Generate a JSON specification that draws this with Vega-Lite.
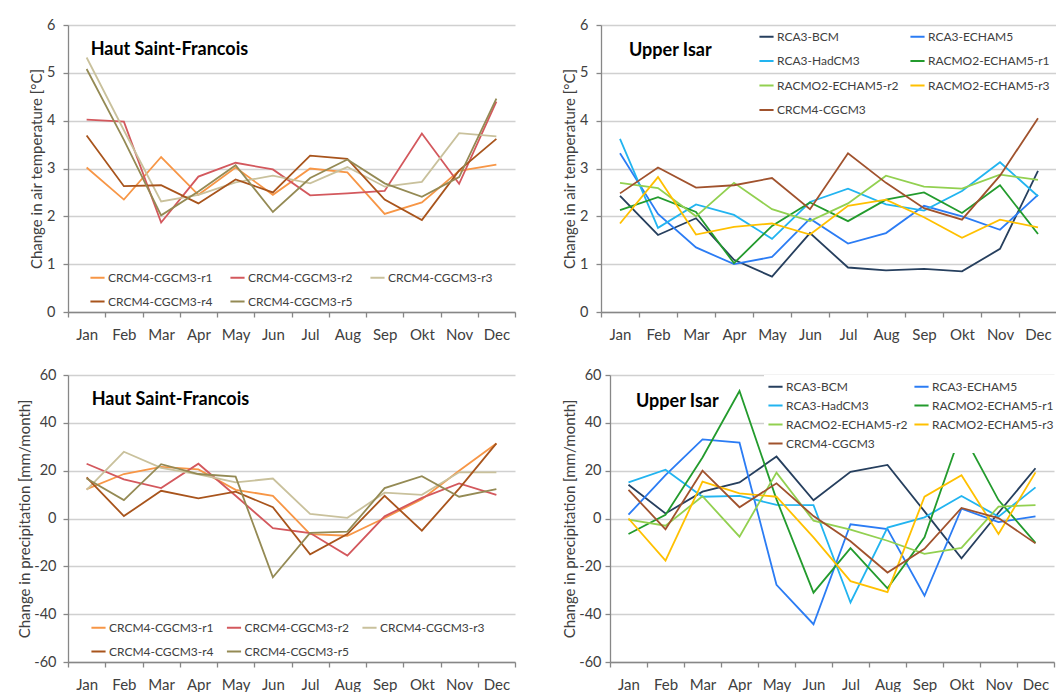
{
  "$schema": "https://vega.github.io/schema/vega-lite/v6.json",
  "background": "white",
  "padding": {"left": 17, "top": 17, "right": 0, "bottom": 0},
  "config": {
    "font": "Lato",
    "view": {"stroke": null},
    "axis": {"labelFont": "Lato", "titleFont": "Lato", "labelFontSize": 15, "titleFontSize": 15, "titleFontWeight": "normal", "labelColor": "#404040", "titleColor": "#404040", "domainColor": "#878787", "tickColor": "#878787", "gridColor": "#d0d0d0", "domainWidth": 1.3, "tickWidth": 1.3, "gridWidth": 1.3, "tickSize": 5},
    "axisY": {"labelFontSize": 14.5},
    "legend": {"symbolType": "stroke", "symbolSize": 200, "symbolStrokeWidth": 2, "labelFont": "Lato", "labelFontSize": 12, "labelColor": "#404040", "labelOffset": 2, "padding": 0}
  },
  "datasets": {
    "tA": [
      {"m":"Jan","s":"CRCM4-CGCM3-r1","v":3.02},{"m":"Feb","s":"CRCM4-CGCM3-r1","v":2.35},{"m":"Mar","s":"CRCM4-CGCM3-r1","v":3.24},{"m":"Apr","s":"CRCM4-CGCM3-r1","v":2.45},{"m":"May","s":"CRCM4-CGCM3-r1","v":3.02},{"m":"Jun","s":"CRCM4-CGCM3-r1","v":2.45},{"m":"Jul","s":"CRCM4-CGCM3-r1","v":3.0},{"m":"Aug","s":"CRCM4-CGCM3-r1","v":2.92},{"m":"Sep","s":"CRCM4-CGCM3-r1","v":2.05},{"m":"Okt","s":"CRCM4-CGCM3-r1","v":2.29},{"m":"Nov","s":"CRCM4-CGCM3-r1","v":2.95},{"m":"Dec","s":"CRCM4-CGCM3-r1","v":3.08},
      {"m":"Jan","s":"CRCM4-CGCM3-r2","v":4.02},{"m":"Feb","s":"CRCM4-CGCM3-r2","v":3.98},{"m":"Mar","s":"CRCM4-CGCM3-r2","v":1.87},{"m":"Apr","s":"CRCM4-CGCM3-r2","v":2.83},{"m":"May","s":"CRCM4-CGCM3-r2","v":3.12},{"m":"Jun","s":"CRCM4-CGCM3-r2","v":2.98},{"m":"Jul","s":"CRCM4-CGCM3-r2","v":2.44},{"m":"Aug","s":"CRCM4-CGCM3-r2","v":2.48},{"m":"Sep","s":"CRCM4-CGCM3-r2","v":2.53},{"m":"Okt","s":"CRCM4-CGCM3-r2","v":3.73},{"m":"Nov","s":"CRCM4-CGCM3-r2","v":2.68},{"m":"Dec","s":"CRCM4-CGCM3-r2","v":4.4},
      {"m":"Jan","s":"CRCM4-CGCM3-r3","v":5.32},{"m":"Feb","s":"CRCM4-CGCM3-r3","v":3.8},{"m":"Mar","s":"CRCM4-CGCM3-r3","v":2.31},{"m":"Apr","s":"CRCM4-CGCM3-r3","v":2.45},{"m":"May","s":"CRCM4-CGCM3-r3","v":2.71},{"m":"Jun","s":"CRCM4-CGCM3-r3","v":2.85},{"m":"Jul","s":"CRCM4-CGCM3-r3","v":2.69},{"m":"Aug","s":"CRCM4-CGCM3-r3","v":3.03},{"m":"Sep","s":"CRCM4-CGCM3-r3","v":2.62},{"m":"Okt","s":"CRCM4-CGCM3-r3","v":2.72},{"m":"Nov","s":"CRCM4-CGCM3-r3","v":3.74},{"m":"Dec","s":"CRCM4-CGCM3-r3","v":3.67},
      {"m":"Jan","s":"CRCM4-CGCM3-r4","v":3.69},{"m":"Feb","s":"CRCM4-CGCM3-r4","v":2.63},{"m":"Mar","s":"CRCM4-CGCM3-r4","v":2.65},{"m":"Apr","s":"CRCM4-CGCM3-r4","v":2.27},{"m":"May","s":"CRCM4-CGCM3-r4","v":2.77},{"m":"Jun","s":"CRCM4-CGCM3-r4","v":2.5},{"m":"Jul","s":"CRCM4-CGCM3-r4","v":3.27},{"m":"Aug","s":"CRCM4-CGCM3-r4","v":3.2},{"m":"Sep","s":"CRCM4-CGCM3-r4","v":2.35},{"m":"Okt","s":"CRCM4-CGCM3-r4","v":1.92},{"m":"Nov","s":"CRCM4-CGCM3-r4","v":2.96},{"m":"Dec","s":"CRCM4-CGCM3-r4","v":3.62},
      {"m":"Jan","s":"CRCM4-CGCM3-r5","v":5.08},{"m":"Feb","s":"CRCM4-CGCM3-r5","v":3.6},{"m":"Mar","s":"CRCM4-CGCM3-r5","v":2.02},{"m":"Apr","s":"CRCM4-CGCM3-r5","v":2.52},{"m":"May","s":"CRCM4-CGCM3-r5","v":3.07},{"m":"Jun","s":"CRCM4-CGCM3-r5","v":2.09},{"m":"Jul","s":"CRCM4-CGCM3-r5","v":2.8},{"m":"Aug","s":"CRCM4-CGCM3-r5","v":3.19},{"m":"Sep","s":"CRCM4-CGCM3-r5","v":2.69},{"m":"Okt","s":"CRCM4-CGCM3-r5","v":2.41},{"m":"Nov","s":"CRCM4-CGCM3-r5","v":2.82},{"m":"Dec","s":"CRCM4-CGCM3-r5","v":4.46}
    ],
    "tB": [
      {"m":"Jan","s":"RCA3-BCM","v":2.43},{"m":"Feb","s":"RCA3-BCM","v":1.61},{"m":"Mar","s":"RCA3-BCM","v":1.96},{"m":"Apr","s":"RCA3-BCM","v":1.09},{"m":"May","s":"RCA3-BCM","v":0.74},{"m":"Jun","s":"RCA3-BCM","v":1.65},{"m":"Jul","s":"RCA3-BCM","v":0.93},{"m":"Aug","s":"RCA3-BCM","v":0.87},{"m":"Sep","s":"RCA3-BCM","v":0.9},{"m":"Okt","s":"RCA3-BCM","v":0.85},{"m":"Nov","s":"RCA3-BCM","v":1.32},{"m":"Dec","s":"RCA3-BCM","v":2.95},
      {"m":"Jan","s":"RCA3-ECHAM5","v":3.32},{"m":"Feb","s":"RCA3-ECHAM5","v":2.05},{"m":"Mar","s":"RCA3-ECHAM5","v":1.35},{"m":"Apr","s":"RCA3-ECHAM5","v":1.0},{"m":"May","s":"RCA3-ECHAM5","v":1.15},{"m":"Jun","s":"RCA3-ECHAM5","v":1.95},{"m":"Jul","s":"RCA3-ECHAM5","v":1.43},{"m":"Aug","s":"RCA3-ECHAM5","v":1.65},{"m":"Sep","s":"RCA3-ECHAM5","v":2.22},{"m":"Okt","s":"RCA3-ECHAM5","v":2.0},{"m":"Nov","s":"RCA3-ECHAM5","v":1.72},{"m":"Dec","s":"RCA3-ECHAM5","v":2.45},
      {"m":"Jan","s":"RCA3-HadCM3","v":3.62},{"m":"Feb","s":"RCA3-HadCM3","v":1.76},{"m":"Mar","s":"RCA3-HadCM3","v":2.25},{"m":"Apr","s":"RCA3-HadCM3","v":2.03},{"m":"May","s":"RCA3-HadCM3","v":1.53},{"m":"Jun","s":"RCA3-HadCM3","v":2.3},{"m":"Jul","s":"RCA3-HadCM3","v":2.58},{"m":"Aug","s":"RCA3-HadCM3","v":2.25},{"m":"Sep","s":"RCA3-HadCM3","v":2.12},{"m":"Okt","s":"RCA3-HadCM3","v":2.53},{"m":"Nov","s":"RCA3-HadCM3","v":3.13},{"m":"Dec","s":"RCA3-HadCM3","v":2.42},
      {"m":"Jan","s":"RACMO2-ECHAM5-r1","v":2.13},{"m":"Feb","s":"RACMO2-ECHAM5-r1","v":2.4},{"m":"Mar","s":"RACMO2-ECHAM5-r1","v":2.09},{"m":"Apr","s":"RACMO2-ECHAM5-r1","v":1.02},{"m":"May","s":"RACMO2-ECHAM5-r1","v":1.8},{"m":"Jun","s":"RACMO2-ECHAM5-r1","v":2.29},{"m":"Jul","s":"RACMO2-ECHAM5-r1","v":1.9},{"m":"Aug","s":"RACMO2-ECHAM5-r1","v":2.35},{"m":"Sep","s":"RACMO2-ECHAM5-r1","v":2.5},{"m":"Okt","s":"RACMO2-ECHAM5-r1","v":2.07},{"m":"Nov","s":"RACMO2-ECHAM5-r1","v":2.65},{"m":"Dec","s":"RACMO2-ECHAM5-r1","v":1.63},
      {"m":"Jan","s":"RACMO2-ECHAM5-r2","v":2.7},{"m":"Feb","s":"RACMO2-ECHAM5-r2","v":2.59},{"m":"Mar","s":"RACMO2-ECHAM5-r2","v":2.0},{"m":"Apr","s":"RACMO2-ECHAM5-r2","v":2.7},{"m":"May","s":"RACMO2-ECHAM5-r2","v":2.15},{"m":"Jun","s":"RACMO2-ECHAM5-r2","v":1.9},{"m":"Jul","s":"RACMO2-ECHAM5-r2","v":2.27},{"m":"Aug","s":"RACMO2-ECHAM5-r2","v":2.85},{"m":"Sep","s":"RACMO2-ECHAM5-r2","v":2.62},{"m":"Okt","s":"RACMO2-ECHAM5-r2","v":2.58},{"m":"Nov","s":"RACMO2-ECHAM5-r2","v":2.87},{"m":"Dec","s":"RACMO2-ECHAM5-r2","v":2.76},
      {"m":"Jan","s":"RACMO2-ECHAM5-r3","v":1.85},{"m":"Feb","s":"RACMO2-ECHAM5-r3","v":2.82},{"m":"Mar","s":"RACMO2-ECHAM5-r3","v":1.62},{"m":"Apr","s":"RACMO2-ECHAM5-r3","v":1.78},{"m":"May","s":"RACMO2-ECHAM5-r3","v":1.85},{"m":"Jun","s":"RACMO2-ECHAM5-r3","v":1.62},{"m":"Jul","s":"RACMO2-ECHAM5-r3","v":2.22},{"m":"Aug","s":"RACMO2-ECHAM5-r3","v":2.35},{"m":"Sep","s":"RACMO2-ECHAM5-r3","v":1.98},{"m":"Okt","s":"RACMO2-ECHAM5-r3","v":1.55},{"m":"Nov","s":"RACMO2-ECHAM5-r3","v":1.93},{"m":"Dec","s":"RACMO2-ECHAM5-r3","v":1.77},
      {"m":"Jan","s":"CRCM4-CGCM3","v":2.48},{"m":"Feb","s":"CRCM4-CGCM3","v":3.02},{"m":"Mar","s":"CRCM4-CGCM3","v":2.6},{"m":"Apr","s":"CRCM4-CGCM3","v":2.65},{"m":"May","s":"CRCM4-CGCM3","v":2.8},{"m":"Jun","s":"CRCM4-CGCM3","v":2.15},{"m":"Jul","s":"CRCM4-CGCM3","v":3.32},{"m":"Aug","s":"CRCM4-CGCM3","v":2.7},{"m":"Sep","s":"CRCM4-CGCM3","v":2.17},{"m":"Okt","s":"CRCM4-CGCM3","v":1.93},{"m":"Nov","s":"CRCM4-CGCM3","v":2.85},{"m":"Dec","s":"CRCM4-CGCM3","v":4.05}
    ],
    "pA": [
      {"m":"Jan","s":"CRCM4-CGCM3-r1","v":12.3},{"m":"Feb","s":"CRCM4-CGCM3-r1","v":18.6},{"m":"Mar","s":"CRCM4-CGCM3-r1","v":21.6},{"m":"Apr","s":"CRCM4-CGCM3-r1","v":20.5},{"m":"May","s":"CRCM4-CGCM3-r1","v":12},{"m":"Jun","s":"CRCM4-CGCM3-r1","v":9.5},{"m":"Jul","s":"CRCM4-CGCM3-r1","v":-6.5},{"m":"Aug","s":"CRCM4-CGCM3-r1","v":-7.2},{"m":"Sep","s":"CRCM4-CGCM3-r1","v":0.2},{"m":"Okt","s":"CRCM4-CGCM3-r1","v":8.1},{"m":"Nov","s":"CRCM4-CGCM3-r1","v":20},{"m":"Dec","s":"CRCM4-CGCM3-r1","v":31.4},
      {"m":"Jan","s":"CRCM4-CGCM3-r2","v":22.9},{"m":"Feb","s":"CRCM4-CGCM3-r2","v":16.4},{"m":"Mar","s":"CRCM4-CGCM3-r2","v":12.7},{"m":"Apr","s":"CRCM4-CGCM3-r2","v":22.9},{"m":"May","s":"CRCM4-CGCM3-r2","v":9.5},{"m":"Jun","s":"CRCM4-CGCM3-r2","v":-4},{"m":"Jul","s":"CRCM4-CGCM3-r2","v":-6.1},{"m":"Aug","s":"CRCM4-CGCM3-r2","v":-15.5},{"m":"Sep","s":"CRCM4-CGCM3-r2","v":0.9},{"m":"Okt","s":"CRCM4-CGCM3-r2","v":8.6},{"m":"Nov","s":"CRCM4-CGCM3-r2","v":14.7},{"m":"Dec","s":"CRCM4-CGCM3-r2","v":9.9},
      {"m":"Jan","s":"CRCM4-CGCM3-r3","v":12},{"m":"Feb","s":"CRCM4-CGCM3-r3","v":27.9},{"m":"Mar","s":"CRCM4-CGCM3-r3","v":21.2},{"m":"Apr","s":"CRCM4-CGCM3-r3","v":18.5},{"m":"May","s":"CRCM4-CGCM3-r3","v":15.1},{"m":"Jun","s":"CRCM4-CGCM3-r3","v":16.7},{"m":"Jul","s":"CRCM4-CGCM3-r3","v":1.9},{"m":"Aug","s":"CRCM4-CGCM3-r3","v":0.3},{"m":"Sep","s":"CRCM4-CGCM3-r3","v":10.8},{"m":"Okt","s":"CRCM4-CGCM3-r3","v":9.9},{"m":"Nov","s":"CRCM4-CGCM3-r3","v":19.3},{"m":"Dec","s":"CRCM4-CGCM3-r3","v":19.3},
      {"m":"Jan","s":"CRCM4-CGCM3-r4","v":17.2},{"m":"Feb","s":"CRCM4-CGCM3-r4","v":1},{"m":"Mar","s":"CRCM4-CGCM3-r4","v":11.6},{"m":"Apr","s":"CRCM4-CGCM3-r4","v":8.4},{"m":"May","s":"CRCM4-CGCM3-r4","v":11.2},{"m":"Jun","s":"CRCM4-CGCM3-r4","v":4.7},{"m":"Jul","s":"CRCM4-CGCM3-r4","v":-15},{"m":"Aug","s":"CRCM4-CGCM3-r4","v":-6.5},{"m":"Sep","s":"CRCM4-CGCM3-r4","v":9.5},{"m":"Okt","s":"CRCM4-CGCM3-r4","v":-5.1},{"m":"Nov","s":"CRCM4-CGCM3-r4","v":12.5},{"m":"Dec","s":"CRCM4-CGCM3-r4","v":31.4},
      {"m":"Jan","s":"CRCM4-CGCM3-r5","v":16.7},{"m":"Feb","s":"CRCM4-CGCM3-r5","v":7.7},{"m":"Mar","s":"CRCM4-CGCM3-r5","v":22.7},{"m":"Apr","s":"CRCM4-CGCM3-r5","v":18.6},{"m":"May","s":"CRCM4-CGCM3-r5","v":17.5},{"m":"Jun","s":"CRCM4-CGCM3-r5","v":-24.6},{"m":"Jul","s":"CRCM4-CGCM3-r5","v":-6},{"m":"Aug","s":"CRCM4-CGCM3-r5","v":-5.5},{"m":"Sep","s":"CRCM4-CGCM3-r5","v":12.7},{"m":"Okt","s":"CRCM4-CGCM3-r5","v":17.7},{"m":"Nov","s":"CRCM4-CGCM3-r5","v":9.1},{"m":"Dec","s":"CRCM4-CGCM3-r5","v":12.3}
    ],
    "pB": [
      {"m":"Jan","s":"RCA3-BCM","v":14.1},{"m":"Feb","s":"RCA3-BCM","v":2.1},{"m":"Mar","s":"RCA3-BCM","v":11.2},{"m":"Apr","s":"RCA3-BCM","v":15.1},{"m":"May","s":"RCA3-BCM","v":25.9},{"m":"Jun","s":"RCA3-BCM","v":7.6},{"m":"Jul","s":"RCA3-BCM","v":19.5},{"m":"Aug","s":"RCA3-BCM","v":22.4},{"m":"Sep","s":"RCA3-BCM","v":3},{"m":"Okt","s":"RCA3-BCM","v":-16.6},{"m":"Nov","s":"RCA3-BCM","v":2.4},{"m":"Dec","s":"RCA3-BCM","v":21},
      {"m":"Jan","s":"RCA3-ECHAM5","v":1.6},{"m":"Feb","s":"RCA3-ECHAM5","v":18.1},{"m":"Mar","s":"RCA3-ECHAM5","v":33.1},{"m":"Apr","s":"RCA3-ECHAM5","v":31.7},{"m":"May","s":"RCA3-ECHAM5","v":-27.7},{"m":"Jun","s":"RCA3-ECHAM5","v":-44.2},{"m":"Jul","s":"RCA3-ECHAM5","v":-2.4},{"m":"Aug","s":"RCA3-ECHAM5","v":-4.4},{"m":"Sep","s":"RCA3-ECHAM5","v":-32.3},{"m":"Okt","s":"RCA3-ECHAM5","v":4.1},{"m":"Nov","s":"RCA3-ECHAM5","v":-1.5},{"m":"Dec","s":"RCA3-ECHAM5","v":0.9},
      {"m":"Jan","s":"RCA3-HadCM3","v":15.1},{"m":"Feb","s":"RCA3-HadCM3","v":20.4},{"m":"Mar","s":"RCA3-HadCM3","v":9.1},{"m":"Apr","s":"RCA3-HadCM3","v":9.5},{"m":"May","s":"RCA3-HadCM3","v":5.7},{"m":"Jun","s":"RCA3-HadCM3","v":5.6},{"m":"Jul","s":"RCA3-HadCM3","v":-35.1},{"m":"Aug","s":"RCA3-HadCM3","v":-3.8},{"m":"Sep","s":"RCA3-HadCM3","v":0.5},{"m":"Okt","s":"RCA3-HadCM3","v":9.4},{"m":"Nov","s":"RCA3-HadCM3","v":0.8},{"m":"Dec","s":"RCA3-HadCM3","v":13},
      {"m":"Jan","s":"RACMO2-ECHAM5-r1","v":-6.5},{"m":"Feb","s":"RACMO2-ECHAM5-r1","v":1.5},{"m":"Mar","s":"RACMO2-ECHAM5-r1","v":25.5},{"m":"Apr","s":"RACMO2-ECHAM5-r1","v":53.3},{"m":"May","s":"RACMO2-ECHAM5-r1","v":8},{"m":"Jun","s":"RACMO2-ECHAM5-r1","v":-31},{"m":"Jul","s":"RACMO2-ECHAM5-r1","v":-12.4},{"m":"Aug","s":"RACMO2-ECHAM5-r1","v":-29.2},{"m":"Sep","s":"RACMO2-ECHAM5-r1","v":-7.9},{"m":"Okt","s":"RACMO2-ECHAM5-r1","v":36.5},{"m":"Nov","s":"RACMO2-ECHAM5-r1","v":7.7},{"m":"Dec","s":"RACMO2-ECHAM5-r1","v":-10.2},
      {"m":"Jan","s":"RACMO2-ECHAM5-r2","v":-0.5},{"m":"Feb","s":"RACMO2-ECHAM5-r2","v":-3},{"m":"Mar","s":"RACMO2-ECHAM5-r2","v":9.3},{"m":"Apr","s":"RACMO2-ECHAM5-r2","v":-7.6},{"m":"May","s":"RACMO2-ECHAM5-r2","v":19.2},{"m":"Jun","s":"RACMO2-ECHAM5-r2","v":-0.9},{"m":"Jul","s":"RACMO2-ECHAM5-r2","v":-4.7},{"m":"Aug","s":"RACMO2-ECHAM5-r2","v":-9.3},{"m":"Sep","s":"RACMO2-ECHAM5-r2","v":-14.8},{"m":"Okt","s":"RACMO2-ECHAM5-r2","v":-12.3},{"m":"Nov","s":"RACMO2-ECHAM5-r2","v":5},{"m":"Dec","s":"RACMO2-ECHAM5-r2","v":5.6},
      {"m":"Jan","s":"RACMO2-ECHAM5-r3","v":0},{"m":"Feb","s":"RACMO2-ECHAM5-r3","v":-17.6},{"m":"Mar","s":"RACMO2-ECHAM5-r3","v":15.4},{"m":"Apr","s":"RACMO2-ECHAM5-r3","v":10.5},{"m":"May","s":"RACMO2-ECHAM5-r3","v":9.1},{"m":"Jun","s":"RACMO2-ECHAM5-r3","v":-7.9},{"m":"Jul","s":"RACMO2-ECHAM5-r3","v":-26.2},{"m":"Aug","s":"RACMO2-ECHAM5-r3","v":-30.8},{"m":"Sep","s":"RACMO2-ECHAM5-r3","v":9.1},{"m":"Okt","s":"RACMO2-ECHAM5-r3","v":18.1},{"m":"Nov","s":"RACMO2-ECHAM5-r3","v":-6.5},{"m":"Dec","s":"RACMO2-ECHAM5-r3","v":19.3},
      {"m":"Jan","s":"CRCM4-CGCM3","v":12},{"m":"Feb","s":"CRCM4-CGCM3","v":-4.5},{"m":"Mar","s":"CRCM4-CGCM3","v":20},{"m":"Apr","s":"CRCM4-CGCM3","v":4.7},{"m":"May","s":"CRCM4-CGCM3","v":14.7},{"m":"Jun","s":"CRCM4-CGCM3","v":1},{"m":"Jul","s":"CRCM4-CGCM3","v":-9.5},{"m":"Aug","s":"CRCM4-CGCM3","v":-22.6},{"m":"Sep","s":"CRCM4-CGCM3","v":-12.7},{"m":"Okt","s":"CRCM4-CGCM3","v":4.4},{"m":"Nov","s":"CRCM4-CGCM3","v":0.2},{"m":"Dec","s":"CRCM4-CGCM3","v":-10.4}
    ]
  },
  "resolve": {"scale": {"color": "independent", "x": "independent", "y": "independent"}, "legend": {"color": "independent"}},
  "columns": 2,
  "align": "none",
  "spacing": {"row": 25, "column": 46},
  "concat": [
    {
      "width": 447, "height": 287,
      "layer": [
        {
          "data": {"name": "tA"},
          "mark": {"type": "line", "strokeWidth": 1.8},
          "encoding": {
            "x": {"field": "m", "type": "ordinal", "bandPosition": 0.5, "sort": ["Jan","Feb","Mar","Apr","May","Jun","Jul","Aug","Sep","Okt","Nov","Dec"], "scale": {"type": "band", "paddingInner": 0, "paddingOuter": 0, "domain": ["Jan","Feb","Mar","Apr","May","Jun","Jul","Aug","Sep","Okt","Nov","Dec"]}, "axis": {"title": null, "labelAngle": 0, "tickBand": "extent", "grid": false, "labelPadding": 10}},
            "y": {"field": "v", "type": "quantitative", "scale": {"domain": [0, 6], "nice": false, "zero": false}, "axis": {"title": "Change in air temperature [°C]", "values": [0,1,2,3,4,5,6], "grid": true, "labelPadding": 8, "titlePadding": 2}},
            "color": {"field": "s", "type": "nominal", "scale": {"domain": ["CRCM4-CGCM3-r1","CRCM4-CGCM3-r4","CRCM4-CGCM3-r2","CRCM4-CGCM3-r5","CRCM4-CGCM3-r3"], "range": ["#F79646","#A8541C","#D3585D","#948A54","#C9C19C"]}, "legend": {"orient": "none", "legendX": 21, "legendY": 244, "columns": 3, "title": null, "rowPadding": 9, "columnPadding": 13}}
          }
        },
        {
          "data": {"values": [{"m": "Jan", "v": 5.48, "t": "Haut Saint-Francois"}]},
          "mark": {"type": "text", "align": "left", "baseline": "middle", "dx": 4, "fontSize": 18, "fontWeight": "bold", "font": "Lato", "color": "#000000"},
          "encoding": {"x": {"field": "m", "type": "ordinal", "bandPosition": 0.5, "sort": ["Jan","Feb","Mar","Apr","May","Jun","Jul","Aug","Sep","Okt","Nov","Dec"]}, "y": {"field": "v", "type": "quantitative"}, "text": {"field": "t"}}
        }
      ]
    },
    {
      "width": 456, "height": 287,
      "layer": [
        {
          "data": {"name": "tB"},
          "mark": {"type": "line", "strokeWidth": 1.8},
          "encoding": {
            "x": {"field": "m", "type": "ordinal", "bandPosition": 0.5, "sort": ["Jan","Feb","Mar","Apr","May","Jun","Jul","Aug","Sep","Okt","Nov","Dec"], "scale": {"type": "band", "paddingInner": 0, "paddingOuter": 0, "domain": ["Jan","Feb","Mar","Apr","May","Jun","Jul","Aug","Sep","Okt","Nov","Dec"]}, "axis": {"title": null, "labelAngle": 0, "tickBand": "extent", "grid": false, "labelPadding": 10}},
            "y": {"field": "v", "type": "quantitative", "scale": {"domain": [0, 6], "nice": false, "zero": false}, "axis": {"title": "Change in air temperature [°C]", "values": [0,1,2,3,4,5,6], "grid": true, "labelPadding": 8, "titlePadding": 2}},
            "color": {"field": "s", "type": "nominal", "scale": {"domain": ["RCA3-BCM","RCA3-HadCM3","RACMO2-ECHAM5-r2","CRCM4-CGCM3","RCA3-ECHAM5","RACMO2-ECHAM5-r1","RACMO2-ECHAM5-r3"], "range": ["#263F5E","#22B4F0","#92D050","#A0522D","#2B7CF4","#239B2D","#FFC000"]}, "legend": {"orient": "none", "legendX": 157, "legendY": 3, "columns": 2, "title": null, "rowPadding": 9.5, "columnPadding": 7}}
          }
        },
        {
          "data": {"values": [{"m": "Jan", "v": 5.46, "t": "Upper Isar"}]},
          "mark": {"type": "text", "align": "left", "baseline": "middle", "dx": 9, "fontSize": 18, "fontWeight": "bold", "font": "Lato", "color": "#000000"},
          "encoding": {"x": {"field": "m", "type": "ordinal", "bandPosition": 0.5, "sort": ["Jan","Feb","Mar","Apr","May","Jun","Jul","Aug","Sep","Okt","Nov","Dec"]}, "y": {"field": "v", "type": "quantitative"}, "text": {"field": "t"}}
        }
      ]
    },
    {
      "width": 447, "height": 287,
      "layer": [
        {
          "data": {"name": "pA"},
          "mark": {"type": "line", "strokeWidth": 1.8},
          "encoding": {
            "x": {"field": "m", "type": "ordinal", "bandPosition": 0.5, "sort": ["Jan","Feb","Mar","Apr","May","Jun","Jul","Aug","Sep","Okt","Nov","Dec"], "scale": {"type": "band", "paddingInner": 0, "paddingOuter": 0, "domain": ["Jan","Feb","Mar","Apr","May","Jun","Jul","Aug","Sep","Okt","Nov","Dec"]}, "axis": {"title": null, "labelAngle": 0, "tickBand": "extent", "grid": false, "labelPadding": 10}},
            "y": {"field": "v", "type": "quantitative", "scale": {"domain": [-60, 60], "nice": false, "zero": false}, "axis": {"title": "Change in precipitation [mm/month]", "values": [-60,-40,-20,0,20,40,60], "labelExpr": "datum.value < 0 ? '-' + abs(datum.value) : '' + datum.value", "grid": true, "labelPadding": 7, "titlePadding": 1}},
            "color": {"field": "s", "type": "nominal", "scale": {"domain": ["CRCM4-CGCM3-r1","CRCM4-CGCM3-r4","CRCM4-CGCM3-r2","CRCM4-CGCM3-r5","CRCM4-CGCM3-r3"], "range": ["#F79646","#A8541C","#D3585D","#948A54","#C9C19C"]}, "legend": {"orient": "none", "legendX": 22, "legendY": 244, "columns": 3, "title": null, "rowPadding": 9, "columnPadding": 8.5}}
          }
        },
        {
          "data": {"values": [{"m": "Jan", "v": 49.5, "t": "Haut Saint-Francois"}]},
          "mark": {"type": "text", "align": "left", "baseline": "middle", "dx": 5, "fontSize": 18, "fontWeight": "bold", "font": "Lato", "color": "#000000"},
          "encoding": {"x": {"field": "m", "type": "ordinal", "bandPosition": 0.5, "sort": ["Jan","Feb","Mar","Apr","May","Jun","Jul","Aug","Sep","Okt","Nov","Dec"]}, "y": {"field": "v", "type": "quantitative"}, "text": {"field": "t"}}
        }
      ]
    },
    {
      "width": 444, "height": 287,
      "layer": [
        {
          "data": {"name": "pB"},
          "mark": {"type": "line", "strokeWidth": 1.8},
          "encoding": {
            "x": {"field": "m", "type": "ordinal", "bandPosition": 0.5, "sort": ["Jan","Feb","Mar","Apr","May","Jun","Jul","Aug","Sep","Okt","Nov","Dec"], "scale": {"type": "band", "paddingInner": 0, "paddingOuter": 0, "domain": ["Jan","Feb","Mar","Apr","May","Jun","Jul","Aug","Sep","Okt","Nov","Dec"]}, "axis": {"title": null, "labelAngle": 0, "tickBand": "extent", "grid": false, "labelPadding": 10}},
            "y": {"field": "v", "type": "quantitative", "scale": {"domain": [-60, 60], "nice": false, "zero": false}, "axis": {"title": "Change in precipitation [mm/month]", "values": [-60,-40,-20,0,20,40,60], "labelExpr": "datum.value < 0 ? '-' + abs(datum.value) : '' + datum.value", "grid": true, "labelPadding": 4, "titlePadding": 1}},
            "color": {"field": "s", "type": "nominal", "scale": {"domain": ["RCA3-BCM","RCA3-HadCM3","RACMO2-ECHAM5-r2","CRCM4-CGCM3","RCA3-ECHAM5","RACMO2-ECHAM5-r1","RACMO2-ECHAM5-r3"], "range": ["#263F5E","#22B4F0","#92D050","#A0522D","#2B7CF4","#239B2D","#FFC000"]}, "legend": {"orient": "none", "legendX": 154, "legendY": 0, "columns": 2, "title": null, "rowPadding": 4, "columnPadding": 2, "padding": 3, "fillColor": "white"}}
          }
        },
        {
          "data": {"values": [{"m": "Jan", "v": 48.7, "t": "Upper Isar"}]},
          "mark": {"type": "text", "align": "left", "baseline": "middle", "dx": 7.5, "fontSize": 18, "fontWeight": "bold", "font": "Lato", "color": "#000000"},
          "encoding": {"x": {"field": "m", "type": "ordinal", "bandPosition": 0.5, "sort": ["Jan","Feb","Mar","Apr","May","Jun","Jul","Aug","Sep","Okt","Nov","Dec"]}, "y": {"field": "v", "type": "quantitative"}, "text": {"field": "t"}}
        }
      ]
    }
  ]
}
